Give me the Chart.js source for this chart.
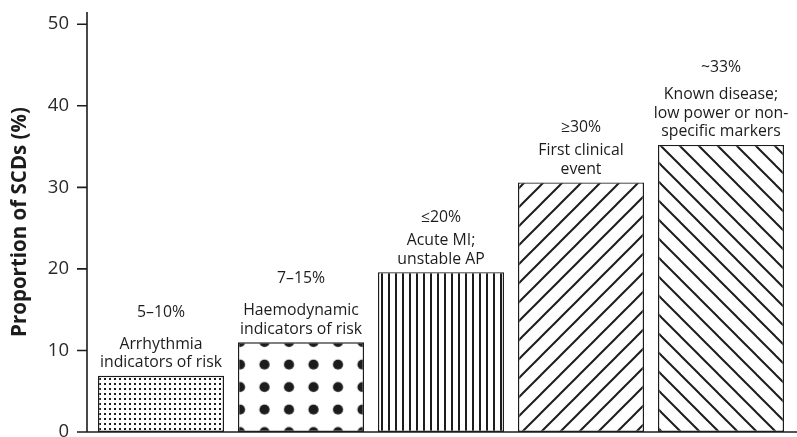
<!DOCTYPE html>
<html><head><meta charset="utf-8">
<script src="https://cdn.jsdelivr.net/npm/chart.js@4"></script>
<style>html,body{margin:0;padding:0;background:#fff;overflow:hidden}</style>
</head><body>
<canvas id="c" width="797" height="437"></canvas>
<script>
// ---- data ----
const categories = ['Arrhythmia indicators of risk', 'Haemodynamic indicators of risk', 'Acute MI; unstable AP', 'First clinical event', 'Known disease; low power or non-specific markers'];
const proportions = [6.9, 11.0, 19.6, 30.6, 35.2];
const rangeLabels = ['5–10%', '7–15%', '≤20%', '≥30%', '~33%'];
const descriptionLines = [
  ['Arrhythmia', 'indicators of risk'],
  ['Haemodynamic', 'indicators of risk'],
  ['Acute MI;', 'unstable AP'],
  ['First clinical', 'event'],
  ['Known disease;', 'low power or non-', 'specific markers']
];
const yTicks = [0, 10, 20, 30, 40, 50];
const yMax = 51.5;
const yTitle = 'Proportion of SCDs (%)';

// ---- styles ----
const INK = '#1c1c1c';
const pctGap = [32, 32, 23, 23, 27];

function tile(w, h, draw) {
  const c = document.createElement('canvas');
  c.width = w; c.height = h;
  const g = c.getContext('2d');
  g.fillStyle = '#fff'; g.fillRect(0, 0, w, h);
  g.fillStyle = INK; g.strokeStyle = INK;
  draw(g, w, h);
  return c;
}
const ctx = document.getElementById('c').getContext('2d');
const patDefs = [
  { c: tile(5, 5, g => g.fillRect(1, 1, 2, 2)), ox: 0, oy: 0 },
  { c: tile(49, 45, g => {
      [[12.25, 11.25], [36.75, 11.25], [12.25, 33.75], [36.75, 33.75]].forEach(([x, y]) => {
        g.beginPath(); g.arc(x, y, 5.1, 0, Math.PI * 2); g.fill();
      });
    }), ox: 2 - 12.25, oy: -11.25 },
  { c: tile(7, 4, g => g.fillRect(3, 0, 2, 4)), ox: 0, oy: 0 },
  { c: tile(19, 19, g => {
      g.lineWidth = 2;
      [[0, 19, 19, 0], [-2, 2, 2, -2], [17, 21, 21, 17]].forEach(([a, b, c2, d]) => {
        g.beginPath(); g.moveTo(a, b); g.lineTo(c2, d); g.stroke();
      });
    }), ox: 4, oy: 0 },
  { c: tile(19, 19, g => {
      g.lineWidth = 2;
      [[0, 0, 19, 19], [-2, 17, 2, 21], [17, -2, 21, 2]].forEach(([a, b, c2, d]) => {
        g.beginPath(); g.moveTo(a, b); g.lineTo(c2, d); g.stroke();
      });
    }), ox: 4, oy: 0 }
];
const patterns = patDefs.map(p => ctx.createPattern(p.c, 'repeat'));

const alignPatterns = {
  id: 'alignPatterns',
  beforeDatasetsDraw(chart) {
    chart.getDatasetMeta(0).data.forEach((el, i) => {
      const left = el.x - el.width / 2;
      patterns[i].setTransform(new DOMMatrix().translate(left + patDefs[i].ox, el.base + patDefs[i].oy));
    });
  }
};

const axesAndLabels = {
  id: 'axesAndLabels',
  afterDatasetsDraw(chart) {
    const { ctx, chartArea, scales } = chart;
    const ax = chartArea.left - 4;
    ctx.save();
    ctx.strokeStyle = INK;
    ctx.lineWidth = 1.6;
    ctx.beginPath();
    ctx.moveTo(ax, chartArea.top); ctx.lineTo(ax, chartArea.bottom);
    ctx.moveTo(ax - 10, chartArea.bottom); ctx.lineTo(chart.width, chartArea.bottom);
    scales.y.ticks.forEach(t => {
      const y = scales.y.getPixelForValue(t.value);
      ctx.moveTo(ax - 10, y); ctx.lineTo(ax, y);
    });
    ctx.stroke();

    ctx.fillStyle = INK;
    ctx.font = '15.8px "Open Sans"';
    ctx.textAlign = 'center';
    ctx.textBaseline = 'middle';
    chart.getDatasetMeta(0).data.forEach((el, i) => {
      const lines = descriptionLines[i];
      const lastY = el.y - 13;
      const lh = 18.5;
      lines.forEach((ln, k) => {
        ctx.fillText(ln, el.x, lastY - (lines.length - 1 - k) * lh);
      });
      const firstY = lastY - (lines.length - 1) * lh;
      ctx.fillText(rangeLabels[i], el.x, firstY - pctGap[i]);
    });
    ctx.restore();
  }
};

new Chart(ctx, {
  type: 'bar',
  data: {
    labels: categories,
    datasets: [{
      data: proportions,
      backgroundColor: patterns,
      borderColor: INK,
      borderWidth: 1.4,
      borderSkipped: false,
      barPercentage: 0.9,
      categoryPercentage: 1
    }]
  },
  options: {
    responsive: false,
    animation: false,
    devicePixelRatio: 1,
    layout: { padding: { top: 12, bottom: 5, left: 0, right: 6 } },
    plugins: { legend: { display: false }, tooltip: { enabled: false } },
    scales: {
      x: { display: false },
      y: {
        min: 0, max: yMax,
        afterBuildTicks: s => { s.ticks = yTicks.map(v => ({ value: v })); },
        afterFit: s => { s.width = 91; s.paddingTop = 0; s.paddingBottom = 0; },
        grid: { display: false, drawTicks: false },
        border: { display: false },
        ticks: { padding: 22, color: '#2a2a2a', font: { family: 'Open Sans', size: 18.5 } },
        title: { display: true, text: yTitle, color: INK, font: { family: 'Open Sans', size: 20.5, weight: 'bold' }, padding: { top: 8, bottom: 0 } }
      }
    }
  },
  plugins: [alignPatterns, axesAndLabels]
});
</script>
</body></html>
